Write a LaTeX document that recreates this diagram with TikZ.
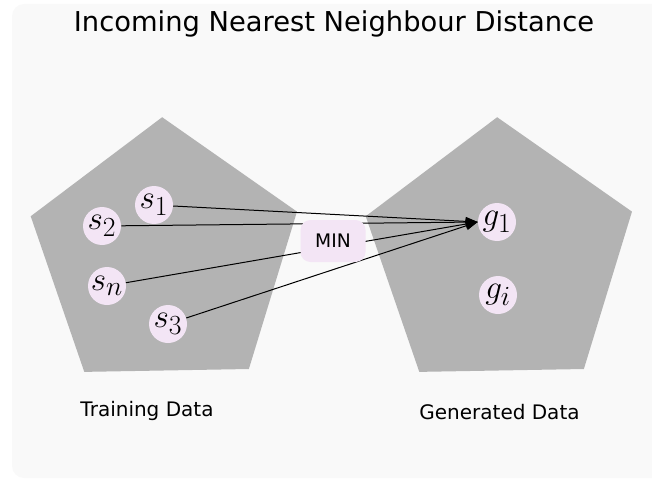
\documentclass[tikz,border=0pt]{standalone}
\usepackage{fontspec}
\setmainfont{DejaVu Sans}
\usetikzlibrary{arrows.meta}
\definecolor{bgc}{HTML}{F9F9F9}
\definecolor{pent}{HTML}{B3B3B3}
\definecolor{pinkc}{HTML}{F3E5F5}
\begin{document}
\begin{tikzpicture}[x=0.75pt,y=-0.75pt,
  pt/.style={circle,fill=pinkc,minimum size=28.5pt,inner sep=0pt,font=\fontsize{24.88}{28}\selectfont},
  minbox/.style={rectangle,rounded corners=7.5pt,fill=pinkc,minimum width=48.75pt,minimum height=31.5pt,inner sep=0pt,font=\fontsize{14}{16}\selectfont},
  lbl/.style={inner sep=0pt,font=\fontsize{15}{18}\selectfont},
  conn/.style={line width=0.75pt,-{Triangle[length=9pt,width=6.5pt]}}
]
\useasboundingbox (0,0) rectangle (652,481);
\fill[bgc,rounded corners=9pt] (12,4) rectangle (680,478);
% pentagons
\fill[pent] ([shift={(164.6,257.2)}]-91:140) -- ([shift={(164.6,257.2)}]-19:140) -- ([shift={(164.6,257.2)}]53:140) -- ([shift={(164.6,257.2)}]125:140) -- ([shift={(164.6,257.2)}]-163:140) -- cycle;
\fill[pent] ([shift={(499.6,257.2)}]-91:140) -- ([shift={(499.6,257.2)}]-19:140) -- ([shift={(499.6,257.2)}]53:140) -- ([shift={(499.6,257.2)}]125:140) -- ([shift={(499.6,257.2)}]-163:140) -- cycle;
% title and labels
\node[lbl,font=\fontsize{20.5}{24}\selectfont] (title) at (334,24) {Incoming Nearest Neighbour Distance};
\node[lbl] (train) at (147,411) {Training Data};
\node[lbl] (gen) at (499.5,412) {Generated Data};
% points
\node[pt] (s1) at (154,205) {$s_1$};
\node[pt] (s2) at (102,226) {$s_2$};
\node[pt] (sn) at (107,286) {$s_n$};
\node[pt] (s3) at (168,324) {$s_3$};
\node[pt] (g1) at (497,222) {$g_1$};
\node[pt] (gi) at (498,295) {$g_i$};
% connectors
\draw[conn] (s1) -- (g1.west);
\draw[conn] (s2) -- (g1.west);
\draw[conn] (sn) -- (g1.west);
\draw[conn] (s3) -- (g1.west);
\node[minbox] (min) at (333,241) {MIN};
\end{tikzpicture}
\end{document}
